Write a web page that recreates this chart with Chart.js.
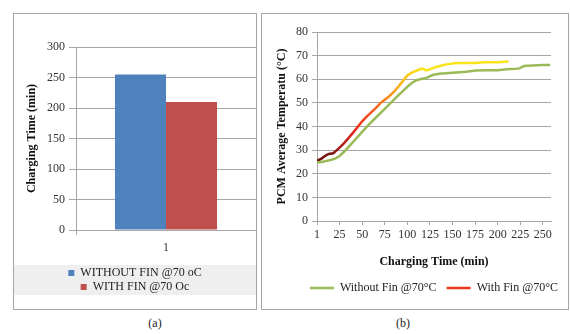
<!DOCTYPE html>
<html>
<head>
<meta charset="utf-8">
<script src="https://cdn.jsdelivr.net/npm/chart.js@4/dist/chart.umd.min.js"></script>
<style>
  body { margin: 0; width: 570px; height: 334px; position: relative; overflow: hidden; background: #fff; font-family: "Liberation Serif", serif; }
  .panel { position: absolute; border: 1px solid #a6a6a6; }
  #pa { left: 13px; top: 13px; width: 242px; height: 295px; }
  #pb { left: 261px; top: 13px; width: 306px; height: 295px; }
  canvas { display: block; }
  .cap { position: absolute; top: 316px; width: 40px; text-align: center; font-size: 12px; color: #222; }
</style>
</head>
<body>
<div class="panel" id="pa"><canvas id="barChart" width="242" height="295"></canvas></div>
<div class="panel" id="pb"><canvas id="lineChart" width="306" height="295"></canvas></div>
<div class="cap" style="left:135px">(a)</div>
<div class="cap" style="left:383px">(b)</div>
<script>
// (a) charging time bars
const barLabels = ['1'];
const withoutFinCharge = [255];
const withFinCharge = [210];

// (b) PCM temperature vs time
const tickValues = [0, 25, 50, 75, 100, 125, 150, 175, 200, 225, 250];
const tickLabels = ['1', '25', '50', '75', '100', '125', '150', '175', '200', '225', '250'];

const withoutFinTime = [0, 5, 10, 15, 20, 25, 30, 35, 40, 45, 50, 55, 60, 65, 70, 75, 80, 85, 90, 95, 100, 105, 110, 115, 120, 124, 128, 135, 150, 165, 176, 187, 200, 210, 220, 224, 229, 238, 250, 258];
const withoutFinTemp = [24.8, 25.0, 25.4, 25.8, 26.4, 27.5, 29.3, 31.4, 33.5, 35.6, 37.7, 39.8, 41.8, 43.7, 45.6, 47.5, 49.4, 51.3, 53.2, 55.0, 56.8, 58.4, 59.6, 60.1, 60.4, 61.1, 61.8, 62.3, 62.8, 63.2, 63.7, 63.8, 63.8, 64.2, 64.4, 64.6, 65.6, 65.8, 66.0, 66.0];

const withFinTime = [0, 5, 10, 13, 18, 22, 27, 30, 35, 40, 45, 50, 55, 60, 65, 70, 75, 80, 85, 90, 95, 100, 105, 110, 115, 118, 121, 125, 131, 138, 145, 152, 160, 175, 185, 200, 212];
const withFinTemp = [25.5, 26.4, 27.8, 28.4, 28.7, 30.0, 31.8, 33.0, 35.2, 37.4, 39.8, 42.2, 44.2, 46.0, 47.8, 49.8, 51.3, 52.8, 54.6, 56.8, 59.2, 61.6, 62.8, 63.6, 64.4, 64.3, 63.7, 64.2, 65.1, 65.8, 66.4, 66.8, 66.9, 66.9, 67.2, 67.2, 67.5];

const serif = "'Liberation Serif', 'Times New Roman', serif";
const gridGray = '#a6a6a6';

// gray band behind the bar chart legend
const legendBand = {
  id: 'legendBand',
  beforeDraw(chart) {
    const lg = chart.legend;
    if (!lg) return;
    const ctx = chart.ctx;
    ctx.save();
    ctx.fillStyle = '#efefef';
    ctx.fillRect(0, lg.top, chart.width, lg.bottom - lg.top - 8);
    ctx.restore();
  }
};

new Chart(document.getElementById('barChart'), {
  type: 'bar',
  data: {
    labels: barLabels,
    datasets: [
      { label: 'WITHOUT FIN @70 oC', data: withoutFinCharge, backgroundColor: '#4f81bd' },
      { label: 'WITH FIN @70 Oc', data: withFinCharge, backgroundColor: '#c0504d' }
    ]
  },
  options: {
    responsive: false,
    animation: false,
    categoryPercentage: 0.567,
    barPercentage: 1,
    layout: { padding: { top: 33, right: 0, bottom: 6, left: 0 } },
    plugins: {
      tooltip: { enabled: false },
      legend: {
        position: 'bottom',
        labels: { boxWidth: 6, boxHeight: 6, padding: 2, color: '#222', font: { family: serif, size: 12 } }
      }
    },
    scales: {
      x: {
        grid: { drawOnChartArea: false, color: gridGray, tickLength: 5 },
        border: { color: gridGray },
        ticks: { color: '#333', padding: 6, font: { family: serif, size: 12 } },
        afterFit(s) { s.height = 35; }
      },
      y: {
        min: 0, max: 300,
        ticks: { stepSize: 50, color: '#333', padding: 4, font: { family: serif, size: 12 } },
        grid: { color: gridGray, tickLength: 7 },
        border: { color: gridGray },
        title: { display: true, text: 'Charging Time (min)', color: '#111', padding: { top: 11, bottom: 0 }, font: { family: serif, size: 12, weight: 'bold' } },
        afterFit(s) { s.width = 62; }
      }
    }
  },
  plugins: [legendBand]
});

function finGradient(c) {
  const chart = c.chart;
  const x = chart.scales.x;
  if (!chart.chartArea || !x) return '#ee3a1a';
  const g = chart.ctx.createLinearGradient(x.getPixelForValue(0), 0, x.getPixelForValue(212), 0);
  g.addColorStop(0, '#6a1410');
  g.addColorStop(0.08, '#7a1912');
  g.addColorStop(0.2, '#ec2a1b');
  g.addColorStop(0.29, '#f25a20');
  g.addColorStop(0.39, '#f8981d');
  g.addColorStop(0.46, '#fbc210');
  g.addColorStop(0.54, '#fae31a');
  g.addColorStop(1, '#fae31a');
  return g;
}

new Chart(document.getElementById('lineChart'), {
  type: 'line',
  data: {
    datasets: [
      {
        label: 'Without Fin @70°C',
        data: withoutFinTime.map((t, i) => ({ x: t, y: withoutFinTemp[i] })),
        borderColor: '#9bbb59', borderWidth: 2.5, pointRadius: 0, tension: 0
      },
      {
        label: 'With Fin @70°C',
        data: withFinTime.map((t, i) => ({ x: t, y: withFinTemp[i] })),
        borderColor: finGradient, borderWidth: 2.5, pointRadius: 0, tension: 0
      }
    ]
  },
  options: {
    responsive: false,
    animation: false,
    layout: { padding: { top: 18, right: 0, bottom: 5, left: 0 } },
    plugins: {
      tooltip: { enabled: false },
      legend: {
        position: 'bottom',
        align: 'end',
        labels: {
          usePointStyle: true, pointStyle: 'line', pointStyleWidth: 24, padding: 10,
          color: '#222', font: { family: serif, size: 12 },
          generateLabels(chart) {
            const items = Chart.defaults.plugins.legend.labels.generateLabels(chart);
            items[1].strokeStyle = '#ee3a1a';
            return items;
          }
        }
      }
    },
    scales: {
      x: {
        type: 'linear', min: 0, max: 259,
        afterBuildTicks(s) { s.ticks = tickValues.map(v => ({ value: v })); },
        ticks: { callback: (v, i) => tickLabels[i], color: '#333', padding: 3, maxRotation: 0, autoSkip: false, font: { family: serif, size: 12 } },
        grid: { drawOnChartArea: false, color: gridGray, tickLength: 4 },
        border: { color: gridGray },
        title: { display: true, text: 'Charging Time (min)', color: '#111', padding: { top: 0, bottom: 3 }, font: { family: serif, size: 12, weight: 'bold' } },
        afterFit(s) { s.height = 51; }
      },
      y: {
        min: 0, max: 80,
        ticks: { stepSize: 10, color: '#333', padding: 4, font: { family: serif, size: 12 } },
        grid: { color: gridGray, tickLength: 5 },
        border: { color: gridGray },
        title: { display: true, text: 'PCM Average Temperatu (°C)', color: '#111', padding: { top: 13, bottom: 0 }, font: { family: serif, size: 12, weight: 'bold' } },
        afterFit(s) { s.width = 55; }
      },
      yr: {
        position: 'right',
        grid: { display: false },
        border: { display: false },
        ticks: { display: false },
        afterFit(s) { s.width = 17; }
      }
    }
  }
});
</script>
</body>
</html>
